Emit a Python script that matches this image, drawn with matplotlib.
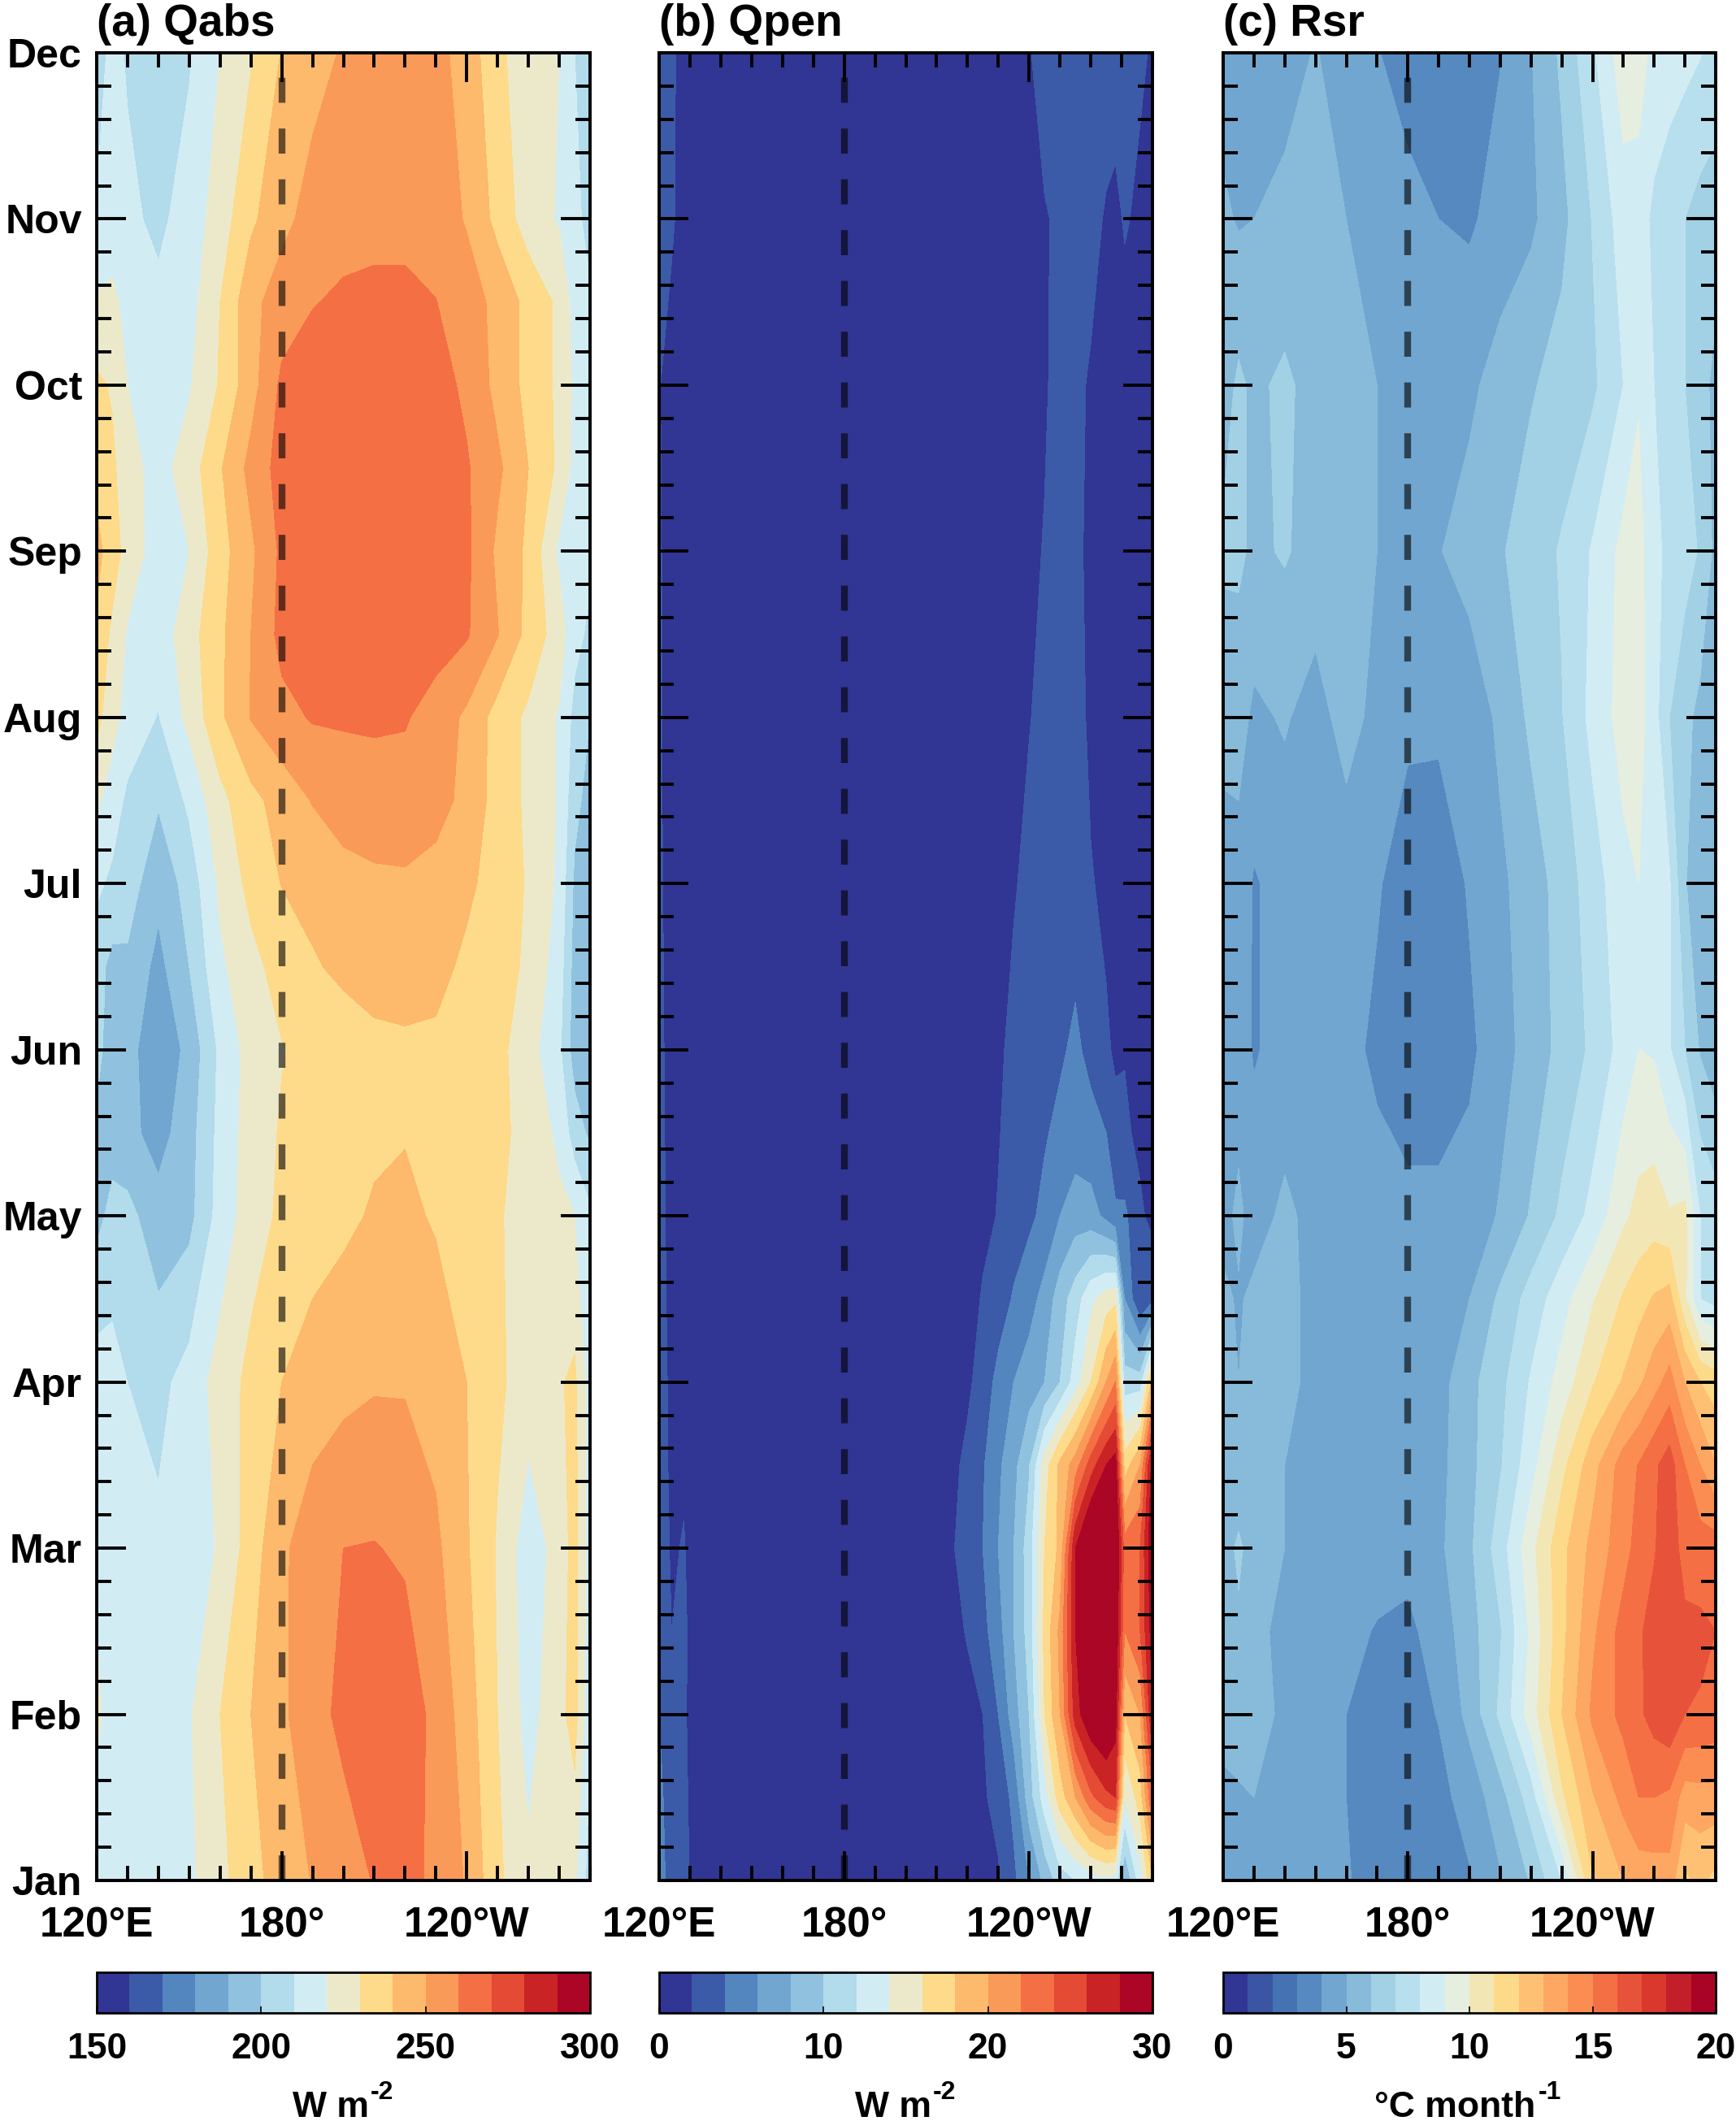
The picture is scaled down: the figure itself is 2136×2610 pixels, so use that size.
import numpy as np
import matplotlib
matplotlib.use('Agg')
import matplotlib.pyplot as plt
from matplotlib.colors import ListedColormap, BoundaryNorm
from matplotlib.cm import ScalarMappable
from matplotlib.ticker import MultipleLocator

plt.rcParams['font.family'] = ['Liberation Sans', 'DejaVu Sans']
plt.rcParams['font.weight'] = 'bold'

months = ['Jan', 'Feb', 'Mar', 'Apr', 'May', 'Jun', 'Jul', 'Aug', 'Sep', 'Oct', 'Nov', 'Dec']
lon_ticks = [120, 180, 240]
lon_labels = ['120°E', '180°', '120°W']

# (a) Qabs, W m-2
lon_a = [120, 125, 130, 140, 150, 160, 170, 180, 190, 200, 210, 220, 230, 240, 250, 260, 270, 275, 280]
time_a = [0, 1, 2, 3, 4, 4.5, 5, 5.5, 6, 6.5, 7, 7.5, 8, 8.5, 9, 9.5, 10, 11]
qabs = [
    [214, 215, 214, 215, 218, 227, 237, 244, 250.5, 256, 260.5, 263, 258, 249, 232, 222, 224, 222, 205],
    [222, 216, 215, 214, 219, 230, 240, 248, 257, 262, 266, 266, 257, 245, 230, 216, 227, 234, 212],
    [218, 214, 213, 212, 215, 221, 235, 248, 256, 260, 260.5, 258.5, 252, 241, 229, 214, 224, 234, 215],
    [215, 214, 210, 207, 214, 224, 233, 240, 244, 247, 249, 249, 246, 240, 232, 225, 229, 232, 215],
    [197, 203, 203, 194, 197, 214, 225, 232, 236, 238, 241, 242, 239, 235, 231, 226, 222, 220, 212],
    [198, 196, 193, 186, 196, 213, 224.5, 231, 233.5, 236, 238.5, 239.5, 238.5, 236, 233, 226, 218, 205, 198],
    [203, 195, 194, 182, 193, 212, 224, 229.5, 233, 235, 237.5, 238, 238, 237, 233, 224, 212, 195, 190],
    [204, 197, 198, 187, 200, 218, 227, 234, 239, 242, 244, 245, 243, 238, 235, 228, 215, 196, 191],
    [212, 208, 205, 193, 204, 222, 233, 240.3, 243, 246, 248, 248.5, 246, 242, 236, 229, 218, 198, 192],
    [222, 215, 208, 201, 212, 227, 237, 244, 250.5, 255, 256, 256, 254, 247, 236, 228, 219, 203, 196],
    [233, 224, 216, 209.5, 223, 238, 250.5, 257, 260.8, 261, 261.3, 260.8, 256, 248, 236, 228, 219, 207, 200],
    [238, 228, 219, 214, 226, 238, 250, 263, 266, 268, 268, 267, 264, 261, 250.5, 237, 225, 213, 208],
    [243, 235, 226, 215, 220, 236, 248, 262, 267, 269.8, 269, 268, 266, 262, 248, 238, 218, 215, 212],
    [237, 232, 224, 216, 225, 239, 253, 264, 267, 268.8, 268.5, 268, 266, 261, 252, 240, 228, 217, 213],
    [232, 229, 220, 214, 219, 231, 246, 262, 265, 267, 267.5, 267, 264, 258, 247, 237, 228, 218, 213],
    [221, 223, 216, 212, 216, 230, 247, 255, 259.5, 261.5, 262, 262, 260.2, 255, 247, 237, 228, 216, 212],
    [211, 213, 212, 208, 214, 225, 238, 247, 254, 256.5, 257.5, 257.5, 256, 249, 237, 225, 219, 214, 205],
    [205, 213, 209, 207, 209, 220, 229, 240.5, 246, 251, 255, 255, 253, 246, 232, 225, 220, 210, 200],
]

# (b) Qpen, W m-2
lon_b = [120, 124, 128, 132, 200, 215, 220, 225, 230, 235, 240, 245, 250, 255, 260, 265, 268, 271, 276, 280]
time_b = [0, 0.5, 1, 1.5, 2, 2.5, 3, 3.5, 4, 4.5, 5, 6, 7, 8, 9, 10, 11]
qpen = [
    [5, 3, 2.4, 1.5, 1, 1, 1.2, 1.5, 1.8, 3.5, 6, 8.5, 11, 12, 13, 13.5, 13, 8, 13, 18],
    [4.5, 3, 2.3, 1.4, 1, 1, 1.4, 1.8, 2.5, 4.6, 9, 13, 17, 20, 23.5, 25.5, 26, 14, 17, 24],
    [4, 2.6, 2.2, 1.3, 1, 1.3, 1.6, 2, 4, 7, 10, 16, 20, 27, 30, 31, 29, 18, 20, 28],
    [3.5, 2, 2.3, 1.2, 0.9, 1.6, 2.1, 3.4, 5.2, 8, 10.8, 16.5, 20.5, 28, 31, 32, 30, 22, 24, 29],
    [3, 1.8, 2.1, 1.2, 0.9, 1.8, 3, 4, 6, 8, 11, 16, 18.5, 28, 32, 33, 31, 23, 24, 30],
    [3, 1.6, 1.8, 1.2, 0.8, 1.5, 2.5, 3.8, 5.6, 7.4, 9.8, 15, 18.5, 21, 25, 28, 29, 17, 20, 29],
    [3, 1.5, 1.5, 1.1, 0.8, 1, 1.6, 2.9, 4.6, 6, 7, 8, 10, 13, 16, 20, 22, 11, 11, 19],
    [2.8, 1.4, 1.3, 1, 0.8, 0.9, 1.1, 2.2, 3, 4.2, 5.2, 6.7, 9, 11, 13.5, 15, 15.5, 6, 2, 3.5],
    [2.6, 1.4, 1.2, 1, 0.7, 0.8, 1, 1.5, 2.1, 3, 3.6, 4.5, 6, 7, 6.8, 5.5, 4.4, 4.4, 2.3, 1.5],
    [2.5, 1.4, 1.2, 1, 0.6, 0.7, 1, 1.4, 1.9, 2.6, 3.1, 3.8, 4.5, 5, 4.7, 4, 2.4, 2.3, 1.6, 1.3],
    [2.4, 1.4, 1.2, 0.9, 0.6, 0.7, 0.9, 1.3, 1.8, 2.3, 2.8, 3.1, 3.7, 4.4, 3.4, 2.2, 1.8, 1.9, 1.5, 1.2],
    [2.3, 1.3, 1.1, 0.9, 0.5, 0.6, 0.8, 1, 1.4, 1.9, 2.3, 2.6, 2.9, 3, 2.1, 1.7, 1.6, 1.3, 1.2, 1],
    [2.2, 1.2, 1, 0.8, 0.5, 0.5, 0.7, 0.9, 1.2, 1.6, 1.95, 2.3, 3, 2.6, 1.7, 1.3, 1.2, 1.1, 1, 0.9],
    [2.2, 1.2, 1, 0.8, 0.5, 0.5, 0.6, 0.8, 1, 1.3, 1.8, 2.05, 2.5, 2.4, 1.6, 1.2, 1, 0.9, 0.8, 0.8],
    [2.1, 1.2, 1, 0.8, 0.5, 0.5, 0.6, 0.7, 0.9, 1.1, 1.5, 1.9, 2.3, 2.4, 1.8, 1.2, 1, 0.9, 0.8, 0.8],
    [2.6, 2.3, 1.2, 0.9, 0.5, 0.5, 0.6, 0.7, 0.9, 1.2, 1.6, 1.9, 2.2, 2.5, 2.6, 1.8, 1.5, 2.2, 1.6, 1.2],
    [2.8, 2.4, 1.2, 0.9, 0.5, 0.6, 0.7, 0.8, 1.1, 1.4, 1.9, 2.6, 2.9, 3, 3, 3, 3, 2.8, 2.3, 1.8],
]

# (c) Rsr, degC month-1
lon_c = [120, 125, 130, 140, 150, 160, 170, 180, 190, 200, 210, 220, 230, 240, 250, 255, 260, 265, 270, 275, 280]
time_c = [0, 0.5, 1, 1.5, 2, 2.5, 3, 3.5, 4, 5, 6, 7, 8, 9, 10, 11]
rsr = [
    [5.0, 4.8, 4.6, 4.5, 4.4, 4.1, 3.5, 3.4, 3.5, 3.9, 4.9, 6.1, 8.0, 11.9, 13.0, 13.4, 13.5, 13.6, 11.8, 12.2, 11.7],
    [4.8, 4.9, 5.0, 4.7, 4.6, 4.0, 3.6, 3.5, 3.7, 4.4, 5.6, 7.5, 10.8, 12.9, 14.3, 15, 15, 14.8, 13.5, 13.6, 13.6],
    [5.3, 5.4, 5.4, 4.8, 4.5, 4.0, 3.6, 3.6, 4.05, 5.3, 7.2, 9.5, 12, 14.2, 15.3, 15.8, 16.4, 16.8, 16, 15.9, 15.7],
    [5.5, 5.8, 5.3, 4.7, 4.5, 4.2, 3.95, 3.8, 4.4, 5.6, 6.9, 9.2, 11.7, 13.8, 15.4, 15.85, 16.4, 16.8, 16.3, 16.2, 16],
    [5.5, 6.2, 5.5, 5.0, 4.7, 4.4, 4.3, 4.3, 4.8, 5.8, 7.5, 9.7, 11.7, 13.3, 14.6, 15.4, 15.9, 16.7, 15.5, 15.5, 15.5],
    [5.2, 5.2, 5.2, 5.0, 4.9, 4.5, 4.3, 4.2, 4.7, 5.7, 6.9, 8.6, 10.7, 12.6, 14.5, 15.05, 15.8, 16.5, 15, 14, 13],
    [5.2, 5.0, 5.1, 5.1, 4.9, 4.5, 4.3, 4.3, 4.6, 5.7, 6.7, 8.1, 9.4, 10.9, 12.1, 12.8, 13.6, 14.4, 13, 12, 11.5],
    [5.2, 4.9, 5.2, 5.1, 4.9, 4.6, 4.4, 4.4, 4.5, 5.0, 6.2, 7.4, 8.6, 9.9, 11.1, 11.6, 12.1, 12.4, 10.2, 8.0, 7.6],
    [4.7, 5.2, 4.6, 5.2, 4.7, 4.5, 4.4, 4.3, 4.3, 4.4, 5.1, 6.1, 7.2, 8.3, 9.8, 10.3, 10.5, 10.1, 10.3, 8.0, 7.5],
    [4.5, 4.5, 3.9, 4.4, 4.4, 4.3, 3.8, 3.3, 3.3, 3.8, 4.6, 5.4, 6.3, 7.2, 8.4, 9.0, 8.9, 8.1, 7.0, 5.9, 5.3],
    [4.6, 4.6, 3.9, 4.4, 4.5, 4.4, 4.1, 3.5, 3.4, 4.1, 4.8, 5.5, 6.4, 7.5, 8.7, 9.0, 8.5, 8.1, 6.05, 5.6, 5.4],
    [5.3, 5.4, 4.8, 5.1, 4.6, 5.4, 4.7, 4.2, 4.2, 4.4, 5.2, 6.2, 6.95, 8.3, 9.4, 9.4, 8.4, 7.0, 6.3, 5.7, 5.4],
    [6.2, 6.2, 5.8, 6.1, 5.6, 5.5, 5.0, 4.6, 4.95, 5.4, 5.9, 6.5, 7.1, 8.1, 9.3, 9.4, 8.2, 7.8, 7.4, 6.9, 5.7],
    [5.5, 6.2, 5.8, 6.2, 5.6, 5.5, 5.0, 4.4, 4.2, 4.8, 5.4, 5.9, 6.4, 6.8, 8.0, 8.9, 8.0, 7.6, 7.0, 6.4, 5.7],
    [5.2, 4.9, 5.0, 5.2, 5.2, 5.0, 4.6, 4.3, 4.0, 3.85, 4.4, 4.8, 5.7, 7.05, 8.5, 8.4, 7.8, 7.5, 7.0, 6.6, 6.5],
    [4.5, 4.6, 4.5, 4.7, 5.05, 4.6, 4.05, 3.6, 3.5, 3.5, 3.95, 4.95, 6.2, 7.8, 9.6, 9.6, 8.6, 8.4, 8.3, 8.05, 7.6],
]

colors_15 = ['#313594', '#3B5AA8', '#5386BE', '#70A6CF', '#90C1DE', '#B2DBEB', '#D2ECF4', '#ECE9CB',
             '#FDDB8A', '#FDB96C', '#FA9A58', '#F46F44', '#E54A34', '#C92326', '#AB0626']
colors_20 = ['#313695', '#3A55A3', '#4572B2', '#5589BF', '#70A6CF', '#88BADA', '#A2D0E4', '#B8DFED',
             '#D2ECF4', '#E6EEE0', '#F3E6B5', '#FDD98A', '#FEC174', '#FDA762', '#FB8D52', '#F46F44',
             '#E7533A', '#DA382C', '#C21F2A', '#A90426']

W, H = 2136, 2610


def px_axes(fig, x0, x1, y0, y1):
    return fig.add_axes([x0/W, 1 - y1/H, (x1 - x0)/W, (y1 - y0)/H])


def px_text(fig, x, y, s, size):
    fig.text(x/W, 1 - y/H, s, fontsize=size, fontweight='bold', ha='left', va='baseline')


def panel(fig, x0, x1, lon, time, z, vmin, vmax, colors, title, cticks, left_labels):
    ax = px_axes(fig, x0, x1, 65, 2314)
    levels = np.linspace(vmin, vmax, len(colors) + 1)
    cmap = ListedColormap(colors)
    norm = BoundaryNorm(levels, cmap.N)
    ax.contourf(lon, time, z, levels=levels, cmap=cmap, norm=norm, extend='both')
    ax.plot([180, 180], [0, 11], color='black', alpha=0.6, lw=6, ls=(0, (3.7, 3.8)))
    ax.set_xlim(120, 280)
    ax.set_ylim(0, 11)
    ax.set_xticks(lon_ticks)
    ax.set_xticklabels(lon_labels, fontsize=37, fontweight='bold')
    ax.xaxis.set_minor_locator(MultipleLocator(10))
    ax.yaxis.set_minor_locator(MultipleLocator(0.2))
    ax.set_yticks(range(12))
    if left_labels:
        ax.set_yticklabels(months, fontsize=36, fontweight='bold')
    else:
        ax.set_yticklabels([])
    ax.tick_params(which='major', direction='in', length=26, width=2.8, top=True, right=True)
    ax.tick_params(which='minor', direction='in', length=13, width=2.8, top=True, right=True)
    ax.tick_params(axis='x', which='major', pad=23)
    ax.tick_params(axis='y', which='major', pad=13)
    for s in ax.spines.values():
        s.set_linewidth(2.8)
    ax.set_title(title, loc='left', fontsize=39.5, fontweight='bold', pad=15)

    cax = px_axes(fig, x0, x1, 2427, 2477)
    cb = fig.colorbar(ScalarMappable(norm=norm, cmap=cmap), cax=cax, orientation='horizontal',
                      ticks=cticks, spacing='proportional')
    cb.ax.tick_params(direction='in', length=6, width=1.2, pad=17, labelsize=32)
    cb.ax.minorticks_off()
    cb.outline.set_linewidth(2)
    return ax


fig = plt.figure(figsize=(W/100, H/100), dpi=100)

panel(fig, 119, 726, lon_a, time_a, qabs, 150, 300, colors_15, '(a) Qabs', [150, 200, 250, 300], True)
panel(fig, 811, 1418, lon_b, time_b, qpen, 0, 30, colors_15, '(b) Qpen', [0, 10, 20, 30], False)
panel(fig, 1505, 2111, lon_c, time_c, rsr, 0, 20, colors_20, '(c) Rsr', [0, 5, 10, 15, 20], False)

# units under the colorbars
px_text(fig, 360, 2605, 'W m', 32)
px_text(fig, 456, 2583, '-2', 23)
px_text(fig, 1052, 2605, 'W m', 32)
px_text(fig, 1148, 2583, '-2', 23)
px_text(fig, 1691, 2605, '°C month', 32)
px_text(fig, 1893, 2583, '-1', 23)

fig.savefig('out.png', dpi=100)
